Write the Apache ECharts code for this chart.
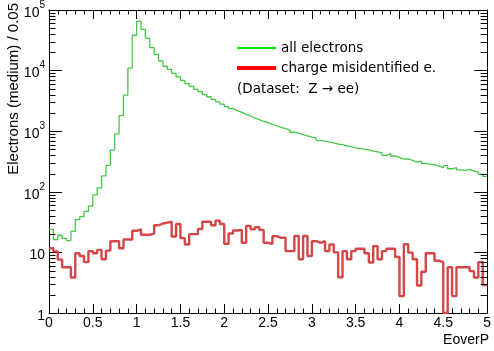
<!DOCTYPE html>
<html>
<head>
<meta charset="utf-8">
<script src="https://cdn.jsdelivr.net/npm/echarts@6/dist/echarts.min.js"></script>
<style>
html,body{margin:0;padding:0;background:#fff;}
#chart{width:494px;height:351px;}
</style>
</head>
<body>
<div id="chart"></div>
<script>
// ---- data ----
const binStart = 0;
const binWidth = 0.05;
const xTickLabels = ['0','0.5','1','1.5','2','2.5','3','3.5','4','4.5','5'];
const seriesNames = ['all electrons', 'charge misidentified e.'];
const allElectrons = [
  24, 16.3, 19.2, 17, 15.7, 22.3, 34.8, 38.9, 47.5, 58,
  89, 116, 183, 273, 488, 903, 1810, 3940, 11000, 38300,
  65000, 48000, 34000, 24000, 18500, 14400, 11800, 10500, 9000, 7900,
  6900, 6100, 5500, 4900, 4500, 4000, 3700, 3350, 3050, 2800,
  2550, 2350, 2200, 2050, 1900, 1780, 1650, 1550, 1450, 1380,
  1300, 1230, 1160, 1100, 1040, 960, 930, 880, 840, 800,
  770, 700, 690, 660, 640, 610, 600, 570, 555, 530,
  520, 500, 490, 470, 455, 440, 400, 425, 390, 370,
  345, 350, 330, 310, 320, 295, 285, 280, 265, 250,
  270, 240, 250, 230, 225, 235, 220, 212, 195, 180
];
const chargeMisId = [
  11.7, 10.4, 7.6, 5.7, 5.7, 3.85, 9.7, 8.7, 6.9, 10.5,
  9.7, 11, 7.7, 10.7, 15.3, 15.3, 11.7, 16.3, 16.3, 22.7,
  24, 19.5, 19.5, 20.5, 28, 30, 31, 32, 18.3, 29.5,
  17.2, 13.5, 20, 20, 24.3, 32, 32, 28, 33.5, 29.5,
  13.8, 20.5, 23, 23.5, 14.4, 27.4, 24, 26, 23.5, 14.4,
  13.9, 18.5, 17.4, 17.4, 10.5, 10.5, 18.7, 7.7, 18.7, 8.7,
  15.3, 14.4, 15.3, 10.5, 13.5, 10, 3.9, 10.5, 7.7, 10.5,
  11.5, 11.5, 9.7, 6.8, 12.7, 7.7, 10.5, 11.5, 11.5, 8.4,
  1.9, 13.6, 9.9, 7.7, 2.85, 4.8, 9.7, 9.7, 7.3, 6.9,
  1, 5.7, 1.9, 5.7, 5.7, 5.7, 4.9, 3.85, 6.9, 2.9
];

// histogram outline points (lower bin edges + closing edge)
function histPoints(vals) {
  const pts = vals.map((v, i) => [+(binStart + i * binWidth).toFixed(4), v]);
  pts.push([+(binStart + vals.length * binWidth).toFixed(4), vals[vals.length - 1]]);
  return pts;
}

// log-axis minor tick positions (2..9 per decade)
const yMinorTicks = [];
for (let e = 0; e < 5; e++) for (let m = 2; m <= 9; m++) yMinorTicks.push([0, m * Math.pow(10, e)]);

const axisFont = 'Liberation Sans';
const chart = echarts.init(document.getElementById('chart'), null, {renderer: 'canvas'});

const xAxisCommon = {
  type: 'value', min: 0, max: 5, interval: 0.5,
  axisLine: {show: true, onZero: false, lineStyle: {color: '#000', width: 1}},
  axisTick: {show: true, inside: true, length: 9, lineStyle: {color: '#000', width: 1}},
  minorTick: {show: true, splitNumber: 5, length: 4.5, lineStyle: {color: '#000', width: 1}},
  splitLine: {show: false}, minorSplitLine: {show: false}
};
const yAxisCommon = {
  type: 'log', logBase: 10, min: 1, max: 100000,
  axisLine: {show: true, onZero: false, lineStyle: {color: '#000', width: 1}},
  axisTick: {show: true, inside: true, length: 13, lineStyle: {color: '#000', width: 1}},
  splitLine: {show: false}
};

chart.setOption({
  animation: false,
  backgroundColor: '#fff',
  grid: {left: 49, right: 4, top: 8, bottom: 38, containLabel: false},
  xAxis: [
    Object.assign({}, xAxisCommon, {
      position: 'bottom',
      axisLabel: {
        show: true, margin: 3, color: '#000', fontFamily: axisFont, fontSize: 14,
        formatter: function (v) { const i = Math.round(v / 0.5); return xTickLabels[i] !== undefined ? xTickLabels[i] : ''; }
      }
    }),
    Object.assign({}, xAxisCommon, {position: 'top', axisLabel: {show: false}})
  ],
  yAxis: [
    Object.assign({}, yAxisCommon, {
      position: 'left',
      axisLabel: {
        show: true, margin: 4, color: '#000', fontFamily: axisFont, fontSize: 14,
        formatter: function (v) {
          const e = Math.round(Math.log10(v));
          if (e === 0) return '{b|1}';
          if (e === 1) return '{b|10}';
          return '{b|10}{s|' + e + '}';
        },
        rich: {
          b: {fontFamily: axisFont, fontSize: 14, color: '#000', lineHeight: 20, verticalAlign: 'bottom'},
          s: {fontFamily: axisFont, fontSize: 10, color: '#000', lineHeight: 20, verticalAlign: 'top'}
        }
      }
    }),
    Object.assign({}, yAxisCommon, {position: 'right', axisLabel: {show: false}})
  ],
  series: [
    {
      name: seriesNames[0], type: 'line', step: 'end', showSymbol: false, symbol: 'none',
      xAxisIndex: 0, yAxisIndex: 0,
      data: histPoints(allElectrons),
      lineStyle: {color: '#45c845', width: 1.3}, z: 3
    },
    {
      name: seriesNames[1], type: 'line', step: 'end', showSymbol: false, symbol: 'none',
      xAxisIndex: 0, yAxisIndex: 0,
      data: histPoints(chargeMisId),
      lineStyle: {color: '#d64646', width: 2.4}, z: 4
    },
    {
      type: 'custom', xAxisIndex: 0, yAxisIndex: 0, clip: false, silent: true, z: 5,
      encode: {x: 0, y: 1},
      data: yMinorTicks,
      renderItem: function (params, api) {
        const v = api.value(1);
        const p0 = api.coord([0, v]);
        const p1 = api.coord([5, v]);
        const y = Math.round(p0[1]) + 0.5;
        return {
          type: 'group',
          children: [
            {type: 'line', shape: {x1: p0[0], y1: y, x2: p0[0] + 6.5, y2: y}, style: {stroke: '#000', lineWidth: 1}},
            {type: 'line', shape: {x1: p1[0] - 6.5, y1: y, x2: p1[0], y2: y}, style: {stroke: '#000', lineWidth: 1}}
          ]
        };
      }
    }
  ],
  graphic: [
    {type: 'text', x: 14, y: 3, rotation: Math.PI / 2,
     style: {text: 'Electrons (medium) / 0.05', fill: '#000', font: '15px "Liberation Sans"', align: 'right', verticalAlign: 'middle'}},
    {type: 'text', x: 489, y: 333,
     style: {text: 'EoverP', fill: '#000', font: '14px "Liberation Sans"', align: 'right', verticalAlign: 'top'}},
    {type: 'line', shape: {x1: 237, y1: 48, x2: 276, y2: 48}, style: {stroke: '#00e600', lineWidth: 2}},
    {type: 'text', x: 281, y: 48,
     style: {text: seriesNames[0], fill: '#000', font: '13.5px "DejaVu Sans"', align: 'left', verticalAlign: 'middle'}},
    {type: 'line', shape: {x1: 237, y1: 68, x2: 276, y2: 68}, style: {stroke: '#ff0000', lineWidth: 4}},
    {type: 'text', x: 281, y: 68,
     style: {text: seriesNames[1], fill: '#000', font: '13.5px "DejaVu Sans"', align: 'left', verticalAlign: 'middle'}},
    {type: 'text', x: 237, y: 89,
     style: {text: '(Dataset:  Z \u2192 ee)', fill: '#000', font: '13.5px "DejaVu Sans"', align: 'left', verticalAlign: 'middle'}}
  ]
});
</script>
</body>
</html>
